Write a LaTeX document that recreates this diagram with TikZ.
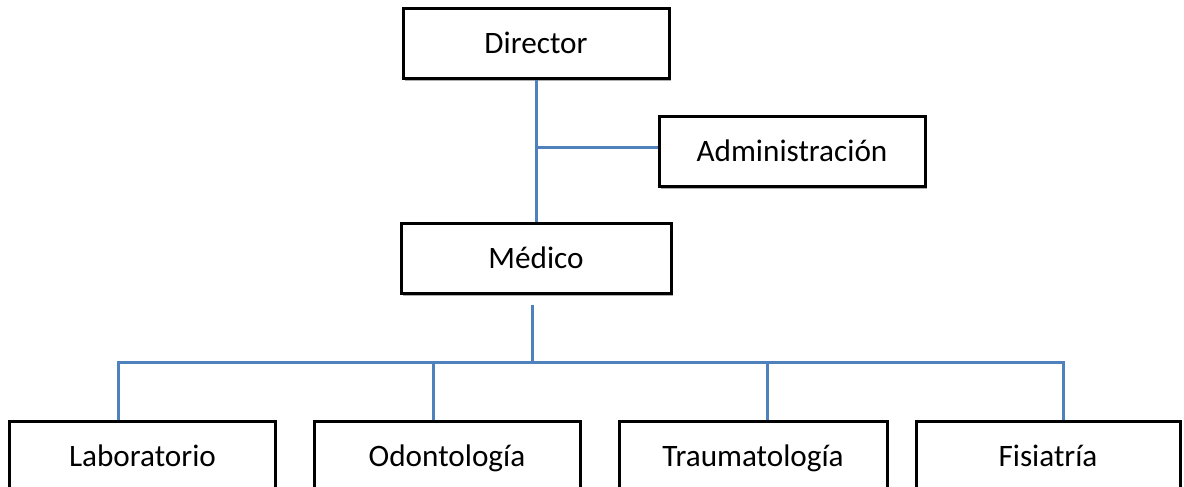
\documentclass[tikz,border=0pt]{standalone}
\usepackage{fontspec}
\setmainfont{Carlito}
\usetikzlibrary{shadows}
\definecolor{azul}{RGB}{79,129,189}

\begin{document}
\begin{tikzpicture}[x=0.5pt,y=0.5pt,
  unidad/.style={draw,line width=1.5pt,fill=white,minimum width=133pt,minimum height=35pt,
    inner sep=0pt,text height=10pt,text depth=0pt,font=\fontsize{15.6}{18}\selectfont,
    drop shadow={shadow xshift=0.8pt,shadow yshift=-1.2pt,fill=black!45,opacity=0.7}},
  enlace/.style={draw=azul,line width=1.5pt}]
 \useasboundingbox (0,0) rectangle (1184,487);
 \clip (0,0) rectangle (1184,487);
 % cargos
 \node[unidad] (dir) at (536,443) {Director};
 \node[unidad] (adm) at (792,335) {Administración};
 \node[unidad,minimum width=135pt] (med) at (536,228) {Médico};
 \node[unidad] (lab) at (142.5,30) {Laboratorio};
 \node[unidad] (odo) at (447,30) {Odontología};
 \node[unidad,minimum width=134pt] (tra) at (753,30) {Traumatología};
 \node[unidad,minimum width=132pt] (fis) at (1048,30) {Fisiatría};
 % enlaces
 \draw[enlace] (dir) -- (med);
 \draw[enlace] ([yshift=2pt]adm.west) -- ([yshift=2pt]adm.west -| dir.south);
 \coordinate (bus) at (532,124);
 \draw[enlace,shorten <=5pt] (med.south -| bus) -- (bus);
 \draw[enlace] ([xshift=-12pt]lab.north) |- (bus);
 \draw[enlace] ([xshift=7.5pt]fis.north) |- (bus);
 \draw[enlace] ([xshift=-7pt]odo.north) -- ([xshift=-7pt]odo.north |- bus);
 \draw[enlace] ([xshift=7pt]tra.north) -- ([xshift=7pt]tra.north |- bus);
\end{tikzpicture}
\end{document}
